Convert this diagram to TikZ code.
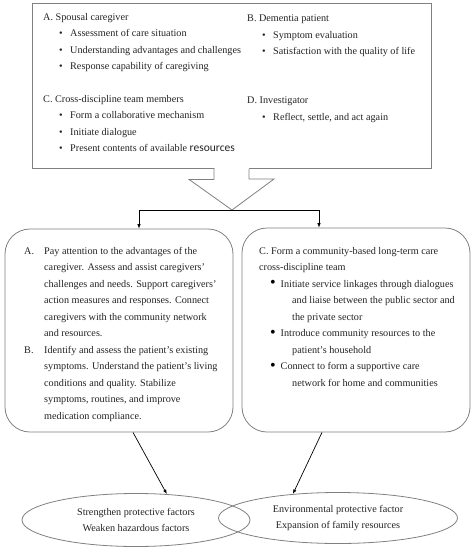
\documentclass[tikz,border=0pt]{standalone}
\usepackage{fontspec}
\setmainfont{Liberation Serif}
\newfontfamily\resfont{Carlito}
\usetikzlibrary{positioning,arrows.meta,shapes.geometric}
\definecolor{framegray}{RGB}{128,128,128}
\definecolor{txtgray}{RGB}{35,35,35}
\newcommand\smalldot{\makebox[11pt][l]{\textbullet}}
\newcommand\blackdot{\makebox[10.5pt][l]{\color{black}\fontsize{16}{0}\selectfont\raisebox{-0.6pt}{\textbullet}}}

\begin{document}
\begin{tikzpicture}[x=1pt, y=-1pt,
  txt/.style={anchor=north west, inner sep=0pt, align=left, text=txtgray, font=\fontsize{10.2}{16.5}\selectfont},
  frame/.style={draw=framegray, line width=0.8pt},
  roundbox/.style={frame, rounded corners=25pt, minimum width=228pt, minimum height=#1},
  oval/.style={frame, ellipse, inner sep=0pt, align=center, text=txtgray, font=\fontsize{10.2}{16}\selectfont},
  arrow/.style={-{Latex[length=4.5pt,width=3.5pt]}, line width=0.7pt}]
  \useasboundingbox (0,0) rectangle (475,550);

  % participants
  \node[frame, minimum width=399pt, minimum height=165pt] (inputs) at (231.5,85.5) {};
  \node[txt] (spouse) at (43,13) {A. Spousal caregiver\\
    \hspace*{16pt}\smalldot Assessment of care situation\\
    \hspace*{16pt}\smalldot Understanding advantages and challenges\\
    \hspace*{16pt}\smalldot Response capability of caregiving};
  \node[txt] (team) at (43,95) {C. Cross-discipline team members\\
    \hspace*{16pt}\smalldot Form a collaborative mechanism\\
    \hspace*{16pt}\smalldot Initiate dialogue\\
    \hspace*{16pt}\smalldot Present contents of available {\resfont\fontsize{11.5}{16.5}\selectfont resources}};
  \node[txt] (patient) at (247,15) {B. Dementia patient\\
    \hspace*{15pt}\smalldot Symptom evaluation\\
    \hspace*{15pt}\smalldot Satisfaction with the quality of life};
  \node[txt] (investigator) at (247,97) {D. Investigator\\
    \hspace*{15pt}\smalldot Reflect, settle, and act again};

  % block arrow
  \coordinate (tip) at (232,210);
  \draw[frame, fill=white] ([xshift=-17.5pt]inputs.south) -- ++(0,11) -- ++(-25,0)
    -- (tip) -- ++(42,-31) -- ++(-25,0) -- ([xshift=17.5pt]inputs.south);
  \draw[white, line width=1.2pt] ([xshift=-17pt]inputs.south) -- ([xshift=17pt]inputs.south);

  % strategies
  \node[roundbox=203pt] (lbox) at (119,330.5) {};
  \node[roundbox=204pt] (rbox) at (356,330) {};
  \draw[arrow] (tip) -| ([xshift=20pt]lbox.north);
  \draw[arrow] (tip) -| ([xshift=-37pt]rbox.north);

  \node[txt] (caretext) at (24,247) {\makebox[20pt][l]{A.}Pay attention to the advantages of the\\
    \hspace*{20pt}caregiver. Assess and assist caregivers'\\
    \hspace*{20pt}challenges and needs. Support caregivers'\\
    \hspace*{20pt}action measures and responses. Connect\\
    \hspace*{20pt}caregivers with the community network\\
    \hspace*{20pt}and resources.\\
    \makebox[20pt][l]{B.}Identify and assess the patient's existing\\
    \hspace*{20pt}symptoms. Understand the patient's living\\
    \hspace*{20pt}conditions and quality. Stabilize\\
    \hspace*{20pt}symptoms, routines, and improve\\
    \hspace*{20pt}medication compliance.};
  \node[txt] (teamtext) at (259,247) {C. Form a community-based long-term care\\
    cross-discipline team\\
    \hspace*{11pt}\blackdot Initiate service linkages through dialogues\\
    \hspace*{33pt}and liaise between the public sector and\\
    \hspace*{33pt}the private sector\\
    \hspace*{11pt}\blackdot Introduce community resources to the\\
    \hspace*{33pt}patient's household\\
    \hspace*{11pt}\blackdot Connect to form a supportive care\\
    \hspace*{33pt}network for home and communities};

  % outcomes
  \node[oval, minimum width=228pt, minimum height=53pt] (lell) at (136,520)
    {Strengthen protective factors\\Weaken hazardous factors};
  \node[oval, minimum width=239pt, minimum height=51pt] (rell) at (338,518)
    {Environmental protective factor\\Expansion of family resources};
  \draw[arrow] ([xshift=14pt]lbox.south) -- (lell.40);
  \draw[arrow] ([xshift=-34pt]rbox.south) -- (rell.152);
\end{tikzpicture}
\end{document}
